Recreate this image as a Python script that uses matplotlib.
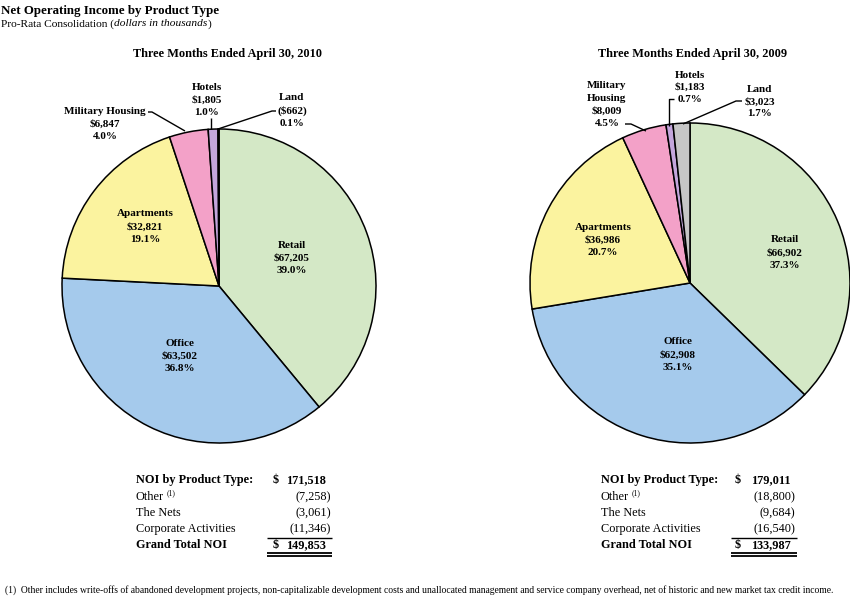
import matplotlib
matplotlib.use('Agg')
import matplotlib.pyplot as plt

# ---------------- data ----------------
categories = ['Retail', 'Office', 'Apartments', 'Military Housing', 'Hotels', 'Land']
pct_2010 = [39.0, 36.8, 19.1, 4.0, 1.0, 0.1]
val_2010 = ['$67,205', '$63,502', '$32,821', '$6,847', '$1,805', '($662)']
pct_2009 = [37.3, 35.1, 20.7, 4.5, 0.7, 1.7]
val_2009 = ['$66,902', '$62,908', '$36,986', '$8,009', '$1,183', '$3,023']
colors = ['#d4e8c6', '#a5caec', '#fbf39f', '#f3a1c8', '#c4a6dc', '#c6c6c6']

table_rows = ['NOI by Product Type:', 'Other', 'The Nets', 'Corporate Activities', 'Grand Total NOI']
table_2010 = ['171,518', '(7,258)', '(3,061)', '(11,346)', '149,853']
table_2009 = ['179,011', '(18,800)', '(9,684)', '(16,540)', '133,987']

W, H = 850, 598
SERIF = 'Liberation Serif'

fig = plt.figure(figsize=(W / 100, H / 100), dpi=100)
ax = fig.add_axes([0, 0, 1, 1])


def P(x, y):
    return (x, H - y)


def pie(pcts, center, r):
    ax.pie(pcts, colors=colors, startangle=90, counterclock=False,
           center=P(*center), radius=r,
           wedgeprops=dict(edgecolor='black', linewidth=1.1))


# ---------------- pies ----------------
pie(pct_2010, (219, 286), 157)
pie(pct_2009, (690, 283), 160)

ax.set_xlim(0, W)
ax.set_ylim(0, H)
ax.set_aspect('auto')
ax.axis('off')


def txt(x, y, s, size=8, weight='normal', ha='center', va='center', style='normal'):
    return ax.text(x, H - y, s, fontsize=size, fontweight=weight, ha=ha, va=va,
                   fontstyle=style, family=SERIF, color='black')


def right_edge(t):
    fig.canvas.draw()
    return t.get_window_extent(fig.canvas.get_renderer()).x1


def block(x, y_first, lines, dy=12.8, size=8, weight='bold'):
    for k, s in enumerate(lines):
        txt(x, y_first + k * dy, s, size=size, weight=weight)


def line(pts, lw=1.0):
    xs = [p[0] for p in pts]
    ys = [H - p[1] for p in pts]
    ax.plot(xs, ys, color='black', lw=lw, solid_capstyle='butt')


# ---------------- headings ----------------
txt(1, 11, 'Net Operating Income by Product Type', size=9.3, weight='bold', ha='left')
a = txt(1, 24, 'Pro-Rata Consolidation (', size=8.2, ha='left')
b = txt(right_edge(a), 24, 'dollars in thousands', size=8.2, ha='left', style='italic')
txt(right_edge(b), 24, ')', size=8.2, ha='left')

txt(228, 54, 'Three Months Ended April 30, 2010', size=8.8, weight='bold')
txt(693, 54, 'Three Months Ended April 30, 2009', size=8.8, weight='bold')


def lab(i, vals, pcts, name=None):
    n = categories[i] if name is None else name
    return [n, vals[i], f'{pcts[i]:.1f}%']


# 2010 inner labels
block(292, 245, lab(0, val_2010, pct_2010))
block(180, 343, lab(1, val_2010, pct_2010))
block(145, 214, lab(2, val_2010, pct_2010))
# 2010 outer labels
block(105, 111, lab(3, val_2010, pct_2010))
block(207, 87, lab(4, val_2010, pct_2010))
block(292, 98, lab(5, val_2010, pct_2010))
line([(148, 112), (152, 112), (185, 131)])
line([(211, 118), (211, 129)])
line([(276, 111), (272, 111), (218, 129)])

# 2009 inner labels
block(785, 240, lab(0, val_2009, pct_2009))
block(678, 342, lab(1, val_2009, pct_2009))
block(603, 227, lab(2, val_2009, pct_2009))
# 2009 outer labels
block(607, 86, ['Military', 'Housing'] + lab(3, val_2009, pct_2009)[1:], dy=12.5)
block(690, 75, lab(4, val_2009, pct_2009), dy=12.5)
block(760, 90, lab(5, val_2009, pct_2009), dy=12.0)
line([(625, 124), (631, 124), (646, 131)])
line([(674, 99), (669, 99), (669, 126)])
line([(742, 101), (736, 101), (683, 124)])

# ---------------- tables ----------------
row_y = [480, 497, 513, 529, 545]
TS = 8.8


def table(x_lab, x_dollar, x_num, x_paren, x_u0, x_u1, vals):
    for k, (name, v) in enumerate(zip(table_rows, vals)):
        w = 'bold' if k in (0, 4) else 'normal'
        t = txt(x_lab, row_y[k], name, size=TS, weight=w, ha='left')
        if k == 1:
            txt(right_edge(t) + 2.5, row_y[k] - 4, '(1)', size=5.5, ha='left')
        if v.startswith('('):
            txt(x_paren, row_y[k], v, size=TS, weight=w, ha='right')
        else:
            txt(x_num, row_y[k], v, size=TS, weight=w, ha='right')
            txt(x_dollar, row_y[k], '$', size=TS, weight=w, ha='center')
    line([(x_u0, 537.5), (x_u1, 537.5)], lw=1.0)
    line([(x_u0, 552.5), (x_u1, 552.5)], lw=1.3)
    line([(x_u0, 555.5), (x_u1, 555.5)], lw=1.3)


table(136, 276, 326, 331, 267, 332, table_2010)
table(601, 738, 791, 795, 731, 797, table_2009)

# ---------------- footnote ----------------
foot = ('(1)  Other includes write-offs of abandoned development projects, non-capitalizable '
        'development costs and unallocated management and service company overhead, net of '
        'historic and new market tax credit income.')
ft = txt(5, 590, foot, size=7, ha='left')
fig.canvas.draw()
wext = ft.get_window_extent(fig.canvas.get_renderer()).width
ft.set_fontsize(7 * 840 / wext)

fig.savefig('out.png', dpi=100, facecolor='white')
